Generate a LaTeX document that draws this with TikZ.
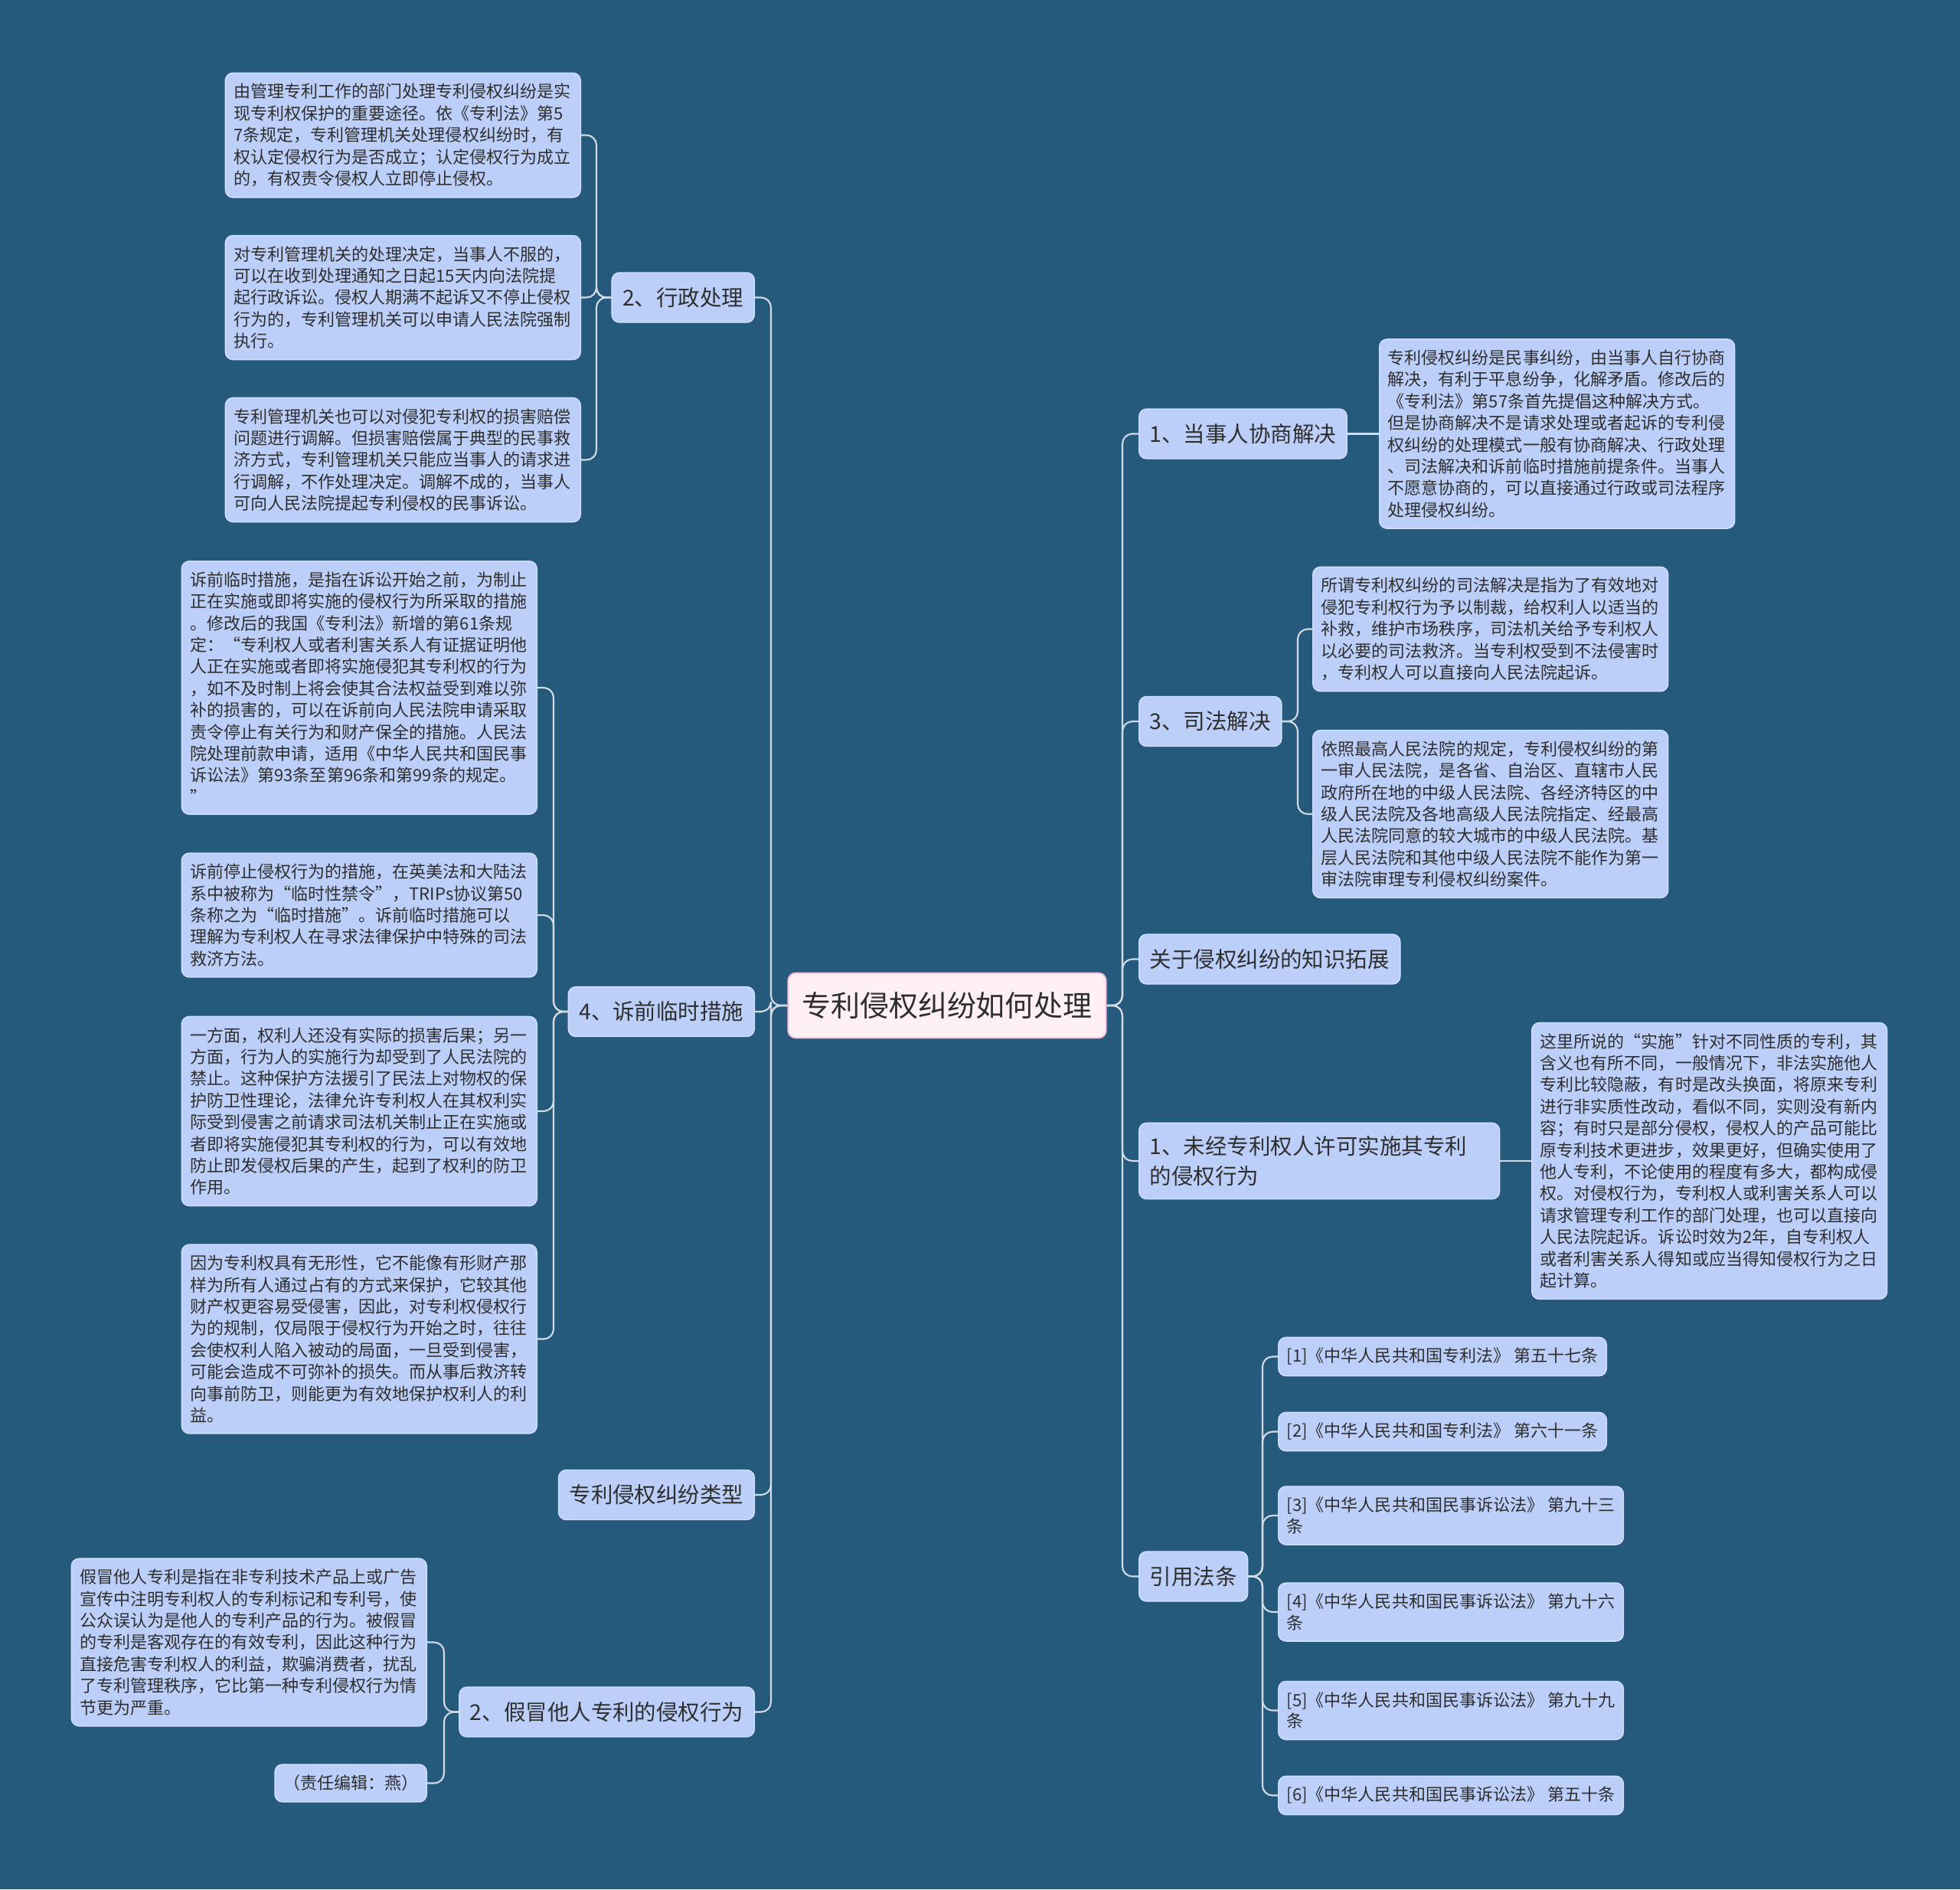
\documentclass[tikz,border=0pt]{standalone}
\usepackage{fontspec}
\newfontfamily\cjk{Noto Sans CJK SC}
\usepackage{xcolor}

\definecolor{bgblue}{HTML}{255A7C}
\definecolor{cardfill}{HTML}{BCCFF9}
\definecolor{cardline}{HTML}{D4E0FF}
\definecolor{linkgray}{HTML}{D3DBE4}
\definecolor{rootfill}{HTML}{FFF0F6}
\definecolor{rootline}{HTML}{F4B6CE}
\definecolor{inkgray}{HTML}{2E2E2E}

\begin{document}
\begin{tikzpicture}[x=1cm, y=-1cm,
  card/.style={draw=cardline, line width=0.4pt, fill=cardfill, rounded corners=0.1cm, text=inkgray},
  root/.style={draw=rootline, line width=0.5pt, fill=rootfill, rounded corners=0.1cm, text=inkgray,
    font=\cjk\fontsize{10.8}{13}\selectfont, inner xsep=0.18cm, minimum height=0.85cm},
  branch/.style={card, font=\cjk\fontsize{8.1}{11.06}\selectfont, inner xsep=0.14cm, inner ysep=0.17cm, minimum height=0.65cm},
  leaf/.style={card, font=\cjk\fontsize{6.27}{8.08}\selectfont, inner xsep=0.11cm, inner ysep=0.14cm,
    text width=4.42cm, align=left},
  lawref/.style={card, font=\cjk\fontsize{6.27}{7.9}\selectfont, inner xsep=0.11cm, inner ysep=0.14cm,
    align=left, minimum height=0.49cm},
  link/.style={draw=linkgray, line width=0.6pt, rounded corners=0.13cm}]

  \fill[bgblue] (0,0) rectangle (25.6,24.67);
  \useasboundingbox (0,0) rectangle (25.6,24.67);

  %% centre
  \node[root] (root) at (12.37,13.13) {专利侵权纠纷如何处理};

  %% left branches
  \node[branch, anchor=east] (adm)  at (9.86,3.885)  {2、行政处理};
  \node[branch, anchor=east] (pre)  at (9.86,13.21)  {4、诉前临时措施};
  \node[branch, anchor=east] (kind) at (9.86,19.52)  {专利侵权纠纷类型};
  \node[branch, anchor=east] (fake) at (9.86,22.355) {2、假冒他人专利的侵权行为};

  %% right branches
  \node[branch, anchor=west] (nego)  at (14.87,5.665)  {1、当事人协商解决};
  \node[branch, anchor=west] (jud)   at (14.87,9.42)   {3、司法解决};
  \node[branch, anchor=west] (more)  at (14.87,12.525) {关于侵权纠纷的知识拓展};
  \node[branch, anchor=west, text width=4.43cm, align=left] (unlic) at (14.87,15.16)
    {1、未经专利权人许可实施其专利\\的侵权行为};
  \node[branch, anchor=west] (laws)  at (14.87,20.585) {引用法条};

  \foreach \n in {adm,pre,kind,fake}
    \draw[link] (\n.east) -- ++(0.21,0) |- (root.west);
  \foreach \n in {nego,jud,more,unlic,laws}
    \draw[link] (\n.west) -- ++(-0.21,0) |- (root.east);

  %% 2、行政处理
  \node[leaf, anchor=east] (adm1) at (7.59,1.765) {由管理专利工作的部门处理专利侵权纠纷是实\\现专利权保护的重要途径。依《专利法》第5\\7条规定，专利管理机关处理侵权纠纷时，有\\权认定侵权行为是否成立；认定侵权行为成立\\的，有权责令侵权人立即停止侵权。};
  \node[leaf, anchor=east] (adm2) at (7.59,3.885) {对专利管理机关的处理决定，当事人不服的，\\可以在收到处理通知之日起15天内向法院提\\起行政诉讼。侵权人期满不起诉又不停止侵权\\行为的，专利管理机关可以申请人民法院强制\\执行。};
  \node[leaf, anchor=east] (adm3) at (7.59,6.005) {专利管理机关也可以对侵犯专利权的损害赔偿\\问题进行调解。但损害赔偿属于典型的民事救\\济方式，专利管理机关只能应当事人的请求进\\行调解，不作处理决定。调解不成的，当事人\\可向人民法院提起专利侵权的民事诉讼。};
  \foreach \n in {adm1,adm2,adm3}
    \draw[link] (\n.east) -- ++(0.2,0) |- (adm.west);

  %% 4、诉前临时措施
  \node[leaf, anchor=east] (pre1) at (7.02,8.98) {诉前临时措施，是指在诉讼开始之前，为制止\\正在实施或即将实施的侵权行为所采取的措施\\。修改后的我国《专利法》新增的第61条规\\定：“专利权人或者利害关系人有证据证明他\\人正在实施或者即将实施侵犯其专利权的行为\\，如不及时制上将会使其合法权益受到难以弥\\补的损害的，可以在诉前向人民法院申请采取\\责令停止有关行为和财产保全的措施。人民法\\院处理前款申请，适用《中华人民共和国民事\\诉讼法》第93条至第96条和第99条的规定。\\”};
  \node[leaf, anchor=east] (pre2) at (7.02,11.95) {诉前停止侵权行为的措施，在英美法和大陆法\\系中被称为“临时性禁令”，TRIPs协议第50\\条称之为“临时措施”。诉前临时措施可以\\理解为专利权人在寻求法律保护中特殊的司法\\救济方法。};
  \node[leaf, anchor=east] (pre3) at (7.02,14.51) {一方面，权利人还没有实际的损害后果；另一\\方面，行为人的实施行为却受到了人民法院的\\禁止。这种保护方法援引了民法上对物权的保\\护防卫性理论，法律允许专利权人在其权利实\\际受到侵害之前请求司法机关制止正在实施或\\者即将实施侵犯其专利权的行为，可以有效地\\防止即发侵权后果的产生，起到了权利的防卫\\作用。};
  \node[leaf, anchor=east] (pre4) at (7.02,17.485) {因为专利权具有无形性，它不能像有形财产那\\样为所有人通过占有的方式来保护，它较其他\\财产权更容易受侵害，因此，对专利权侵权行\\为的规制，仅局限于侵权行为开始之时，往往\\会使权利人陷入被动的局面，一旦受到侵害，\\可能会造成不可弥补的损失。而从事后救济转\\向事前防卫，则能更为有效地保护权利人的利\\益。};
  \foreach \n in {pre1,pre2,pre3,pre4}
    \draw[link] (\n.east) -- ++(0.21,0) |- (pre.west);

  %% 2、假冒他人专利的侵权行为
  \node[leaf, anchor=east] (fake1) at (5.58,21.445) {假冒他人专利是指在非专利技术产品上或广告\\宣传中注明专利权人的专利标记和专利号，使\\公众误认为是他人的专利产品的行为。被假冒\\的专利是客观存在的有效专利，因此这种行为\\直接危害专利权人的利益，欺骗消费者，扰乱\\了专利管理秩序，它比第一种专利侵权行为情\\节更为严重。};
  \node[lawref, anchor=east] (fake2) at (5.58,23.285) {（责任编辑：燕）};
  \foreach \n in {fake1,fake2}
    \draw[link] (\n.east) -- ++(0.22,0) |- (fake.west);

  %% 1、当事人协商解决
  \node[leaf, anchor=west] (nego1) at (18.01,5.665) {专利侵权纠纷是民事纠纷，由当事人自行协商\\解决，有利于平息纷争，化解矛盾。修改后的\\《专利法》第57条首先提倡这种解决方式。\\但是协商解决不是请求处理或者起诉的专利侵\\权纠纷的处理模式一般有协商解决、行政处理\\、司法解决和诉前临时措施前提条件。当事人\\不愿意协商的，可以直接通过行政或司法程序\\处理侵权纠纷。};
  \draw[link] (nego.east) -- (nego1.west);

  %% 3、司法解决
  \node[leaf, anchor=west] (jud1) at (17.14,8.215) {所谓专利权纠纷的司法解决是指为了有效地对\\侵犯专利权行为予以制裁，给权利人以适当的\\补救，维护市场秩序，司法机关给予专利权人\\以必要的司法救济。当专利权受到不法侵害时\\，专利权人可以直接向人民法院起诉。};
  \node[leaf, anchor=west] (jud2) at (17.14,10.63) {依照最高人民法院的规定，专利侵权纠纷的第\\一审人民法院，是各省、自治区、直辖市人民\\政府所在地的中级人民法院、各经济特区的中\\级人民法院及各地高级人民法院指定、经最高\\人民法院同意的较大城市的中级人民法院。基\\层人民法院和其他中级人民法院不能作为第一\\审法院审理专利侵权纠纷案件。};
  \foreach \n in {jud1,jud2}
    \draw[link] (\n.west) -- ++(-0.19,0) |- (jud.east);

  %% 1、未经专利权人许可实施其专利的侵权行为
  \node[leaf, anchor=west] (unlic1) at (20.00,15.16) {这里所说的“实施”针对不同性质的专利，其\\含义也有所不同，一般情况下，非法实施他人\\专利比较隐蔽，有时是改头换面，将原来专利\\进行非实质性改动，看似不同，实则没有新内\\容；有时只是部分侵权，侵权人的产品可能比\\原专利技术更进步，效果更好，但确实使用了\\他人专利，不论使用的程度有多大，都构成侵\\权。对侵权行为，专利权人或利害关系人可以\\请求管理专利工作的部门处理，也可以直接向\\人民法院起诉。诉讼时效为2年，自专利权人\\或者利害关系人得知或应当得知侵权行为之日\\起计算。};
  \draw[link] (unlic.east) -- (unlic1.west);

  %% 引用法条
  \foreach \i/\yy/\txt in {
    1/17.715/{[1]《中华人民共和国专利法》 第五十七条},
    2/18.695/{[2]《中华人民共和国专利法》 第六十一条},
    3/19.79/{[3]《中华人民共和国民事诉讼法》 第九十三\\条},
    4/21.05/{[4]《中华人民共和国民事诉讼法》 第九十六\\条},
    5/22.335/{[5]《中华人民共和国民事诉讼法》 第九十九\\条},
    6/23.445/{[6]《中华人民共和国民事诉讼法》 第五十条}}{
    \node[lawref, anchor=west] (law\i) at (16.69,\yy) {\txt};
    \draw[link] (law\i.west) -- ++(-0.2,0) |- (laws.east);
  }
\end{tikzpicture}
\end{document}
